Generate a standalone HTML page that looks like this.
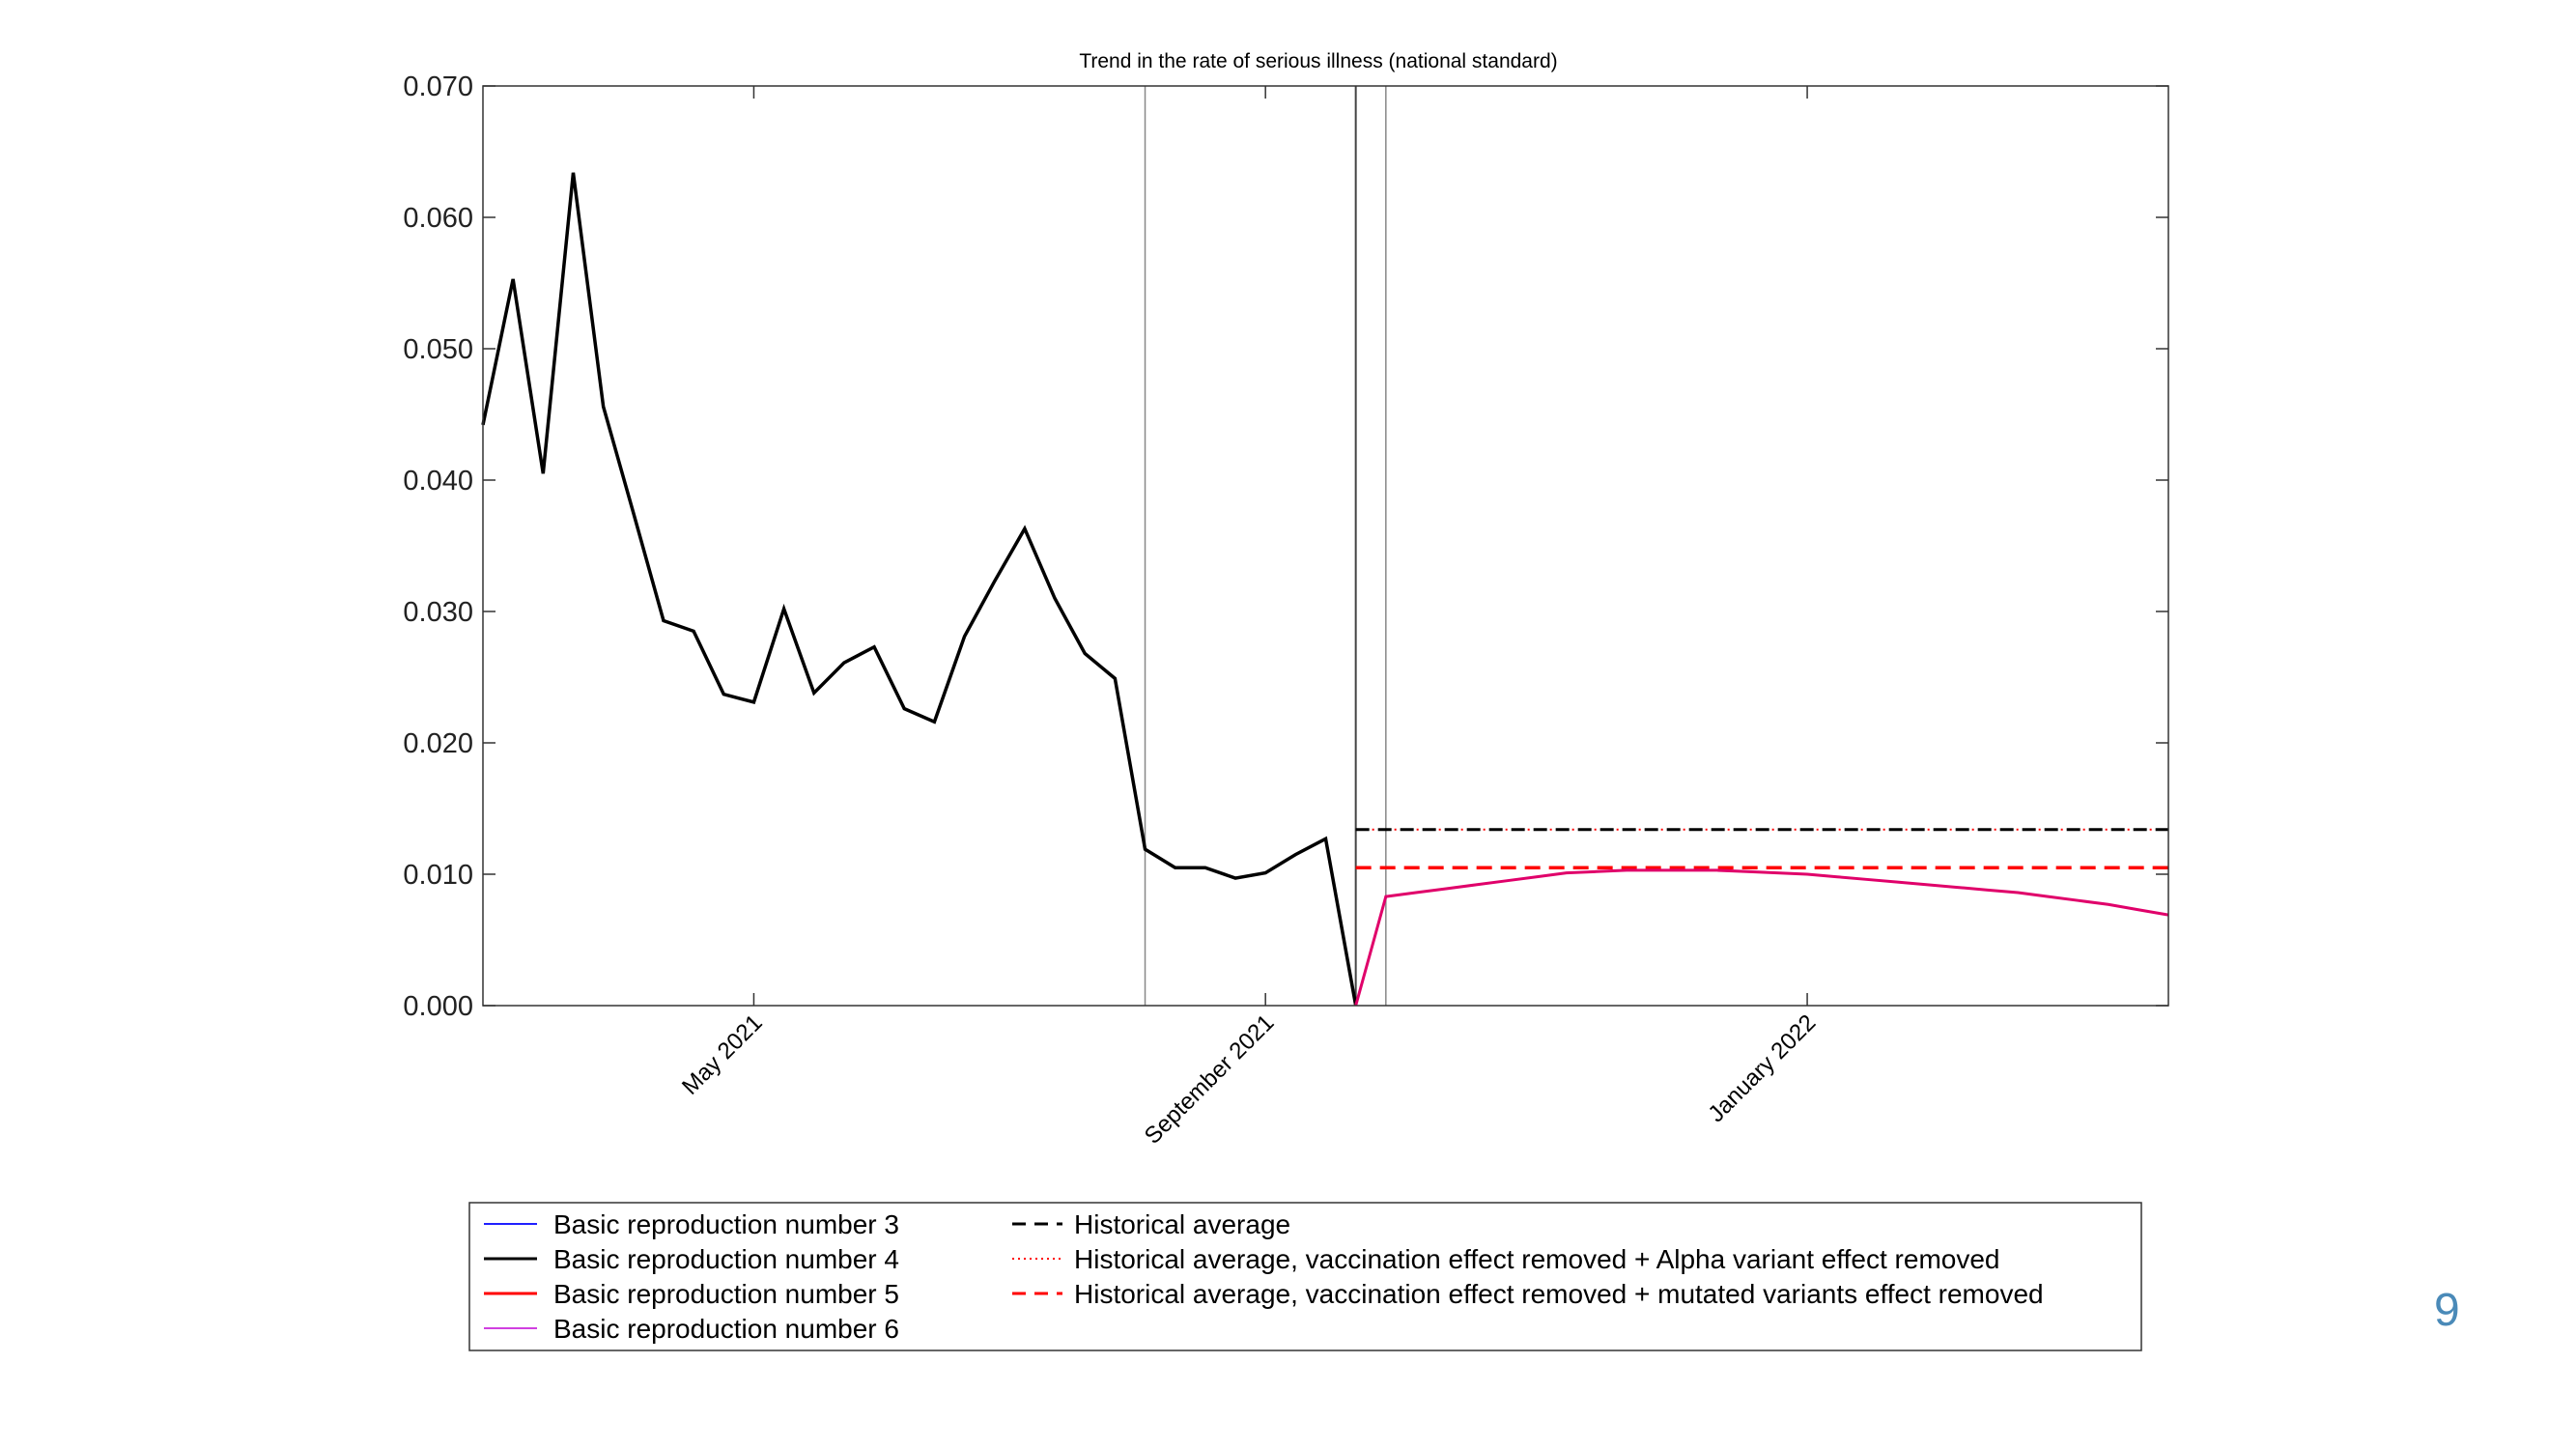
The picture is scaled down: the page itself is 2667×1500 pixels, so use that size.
<!DOCTYPE html>
<html><head><meta charset="utf-8"><style>
html,body{margin:0;padding:0;background:#fff;}
svg{display:block;font-family:"Liberation Sans",Arial,sans-serif;}
</style></head><body>
<svg id="chart" width="2667" height="1500" viewBox="0 0 2667 1500" xmlns="http://www.w3.org/2000/svg">
<rect width="2667" height="1500" fill="#fff"/>
<text x="1365" y="70" font-size="21" text-anchor="middle" fill="#000">Trend in the rate of serious illness (national standard)</text>
<g id="grid"></g>
<g id="series"></g>
<rect x="500" y="89" width="1745" height="952" fill="none" stroke="#333" stroke-width="1.5"/>
<g id="axes"></g>
<g>
<rect x="486" y="1245" width="1731" height="153" fill="#fff" stroke="#333" stroke-width="1.5"/>
<g font-size="28" fill="#000">
<g><line x1="501" y1="1267" x2="556" y2="1267" stroke="#2020ff" stroke-width="2"/><text x="573" y="1277">Basic reproduction number 3</text></g>
<g><line x1="501" y1="1303" x2="556" y2="1303" stroke="#000" stroke-width="3"/><text x="573" y="1313">Basic reproduction number 4</text></g>
<g><line x1="501" y1="1339" x2="556" y2="1339" stroke="#f00" stroke-width="3"/><text x="573" y="1349">Basic reproduction number 5</text></g>
<g><line x1="501" y1="1375" x2="556" y2="1375" stroke="#d040e0" stroke-width="2"/><text x="573" y="1385">Basic reproduction number 6</text></g>
<g><line x1="1048" y1="1267" x2="1100" y2="1267" stroke="#000" stroke-width="3" stroke-dasharray="14,9"/><text x="1112" y="1277">Historical average</text></g>
<g><line x1="1048" y1="1303" x2="1100" y2="1303" stroke="#f00" stroke-width="2" stroke-dasharray="2,4"/><text x="1112" y="1313">Historical average, vaccination effect removed + Alpha variant effect removed</text></g>
<g><line x1="1048" y1="1339" x2="1100" y2="1339" stroke="#f00" stroke-width="3" stroke-dasharray="14,9"/><text x="1112" y="1349">Historical average, vaccination effect removed + mutated variants effect removed</text></g>
</g></g>
<text x="2520" y="1372" font-size="48" fill="#4a8ab8">9</text>
</svg>
<script>
const observed = [0.0442,0.0553,0.0405,0.0634,0.0456,0.0375,0.0293,0.0285,0.0237,0.0231,0.0302,0.0238,0.0261,0.0273,0.0226,0.0216,0.0281,0.0323,0.0363,0.0310,0.0268,0.0249,0.0119,0.0105,0.0105,0.0097,0.0101,0.0115,0.0127,0.0];
const forecastStart = 29;
const forecast = [0.0,0.0083,0.0086,0.0089,0.0092,0.0095,0.0098,0.0101,0.0102,0.0103,0.0103,0.0103,0.0103,0.0102,0.0101,0.0100,0.0098,0.0096,0.0094,0.0092,0.0090,0.0088,0.0086,0.0083,0.0080,0.0077,0.0073,0.0069];
const historicalAvg = 0.0134;
const mutatedAvg = 0.0105;
const yTicks = [0,0.01,0.02,0.03,0.04,0.05,0.06,0.07];
const yTickLabels = ["0.000","0.010","0.020","0.030","0.040","0.050","0.060","0.070"];
const xTickIdx = [9.0,26.0,44.0];
const xTickLabels = ["May 2021","September 2021","January 2022"];
const vLines = [22,29,30];

const NS="http://www.w3.org/2000/svg";
const X0=500,X1=2245,Y0=1041,Y1=89,NMAX=56;
const xs=i=>X0+(X1-X0)*i/NMAX;
const ys=v=>Y0-(Y0-Y1)*v/0.07;
function mk(tag,attrs,parent){const e=document.createElementNS(NS,tag);for(const k in attrs)e.setAttribute(k,attrs[k]);parent.appendChild(e);return e;}
const grid=document.getElementById('grid'),ser=document.getElementById('series'),ax=document.getElementById('axes');
vLines.forEach((i,k)=>{const l=mk('line',{x1:xs(i),x2:xs(i),y1:Y1,y2:Y0,stroke:k==1?'#444':'#888','stroke-width':k==1?2:1.5},grid);

});
const h1=mk('line',{x1:xs(forecastStart),x2:X1,y1:ys(historicalAvg),y2:ys(historicalAvg),stroke:'#000','stroke-width':3,'stroke-dasharray':'14,9'},ser);


const h2=mk('line',{x1:xs(forecastStart),x2:X1,y1:ys(historicalAvg),y2:ys(historicalAvg),stroke:'#f00','stroke-width':2,'stroke-dasharray':'2,21','stroke-dashoffset':'-17'},ser);


const h3=mk('line',{x1:xs(forecastStart),x2:X1,y1:ys(mutatedAvg),y2:ys(mutatedAvg),stroke:'#f00','stroke-width':3.5,'stroke-dasharray':'16,9'},ser);


const po=mk('polyline',{points:observed.map((v,i)=>xs(i)+','+ys(v)).join(' '),fill:'none',stroke:'#000','stroke-width':3.5,'stroke-linejoin':'miter'},ser);


const pf=mk('polyline',{points:forecast.map((v,i)=>xs(forecastStart+i)+','+ys(v)).join(' '),fill:'none',stroke:'#e0006a','stroke-width':3},ser);


yTicks.forEach((v,k)=>{const y=ys(v);
mk('line',{x1:X0,x2:X0+13,y1:y,y2:y,stroke:'#333','stroke-width':1.5},ax);
mk('line',{x1:X1-13,x2:X1,y1:y,y2:y,stroke:'#333','stroke-width':1.5},ax);
const t=mk('text',{x:490,y:y+10,'font-size':29,'text-anchor':'end',fill:'#222'},ax);t.textContent=yTickLabels[k];

});
xTickIdx.forEach((i,k)=>{const x=xs(i);
mk('line',{x1:x,x2:x,y1:Y0,y2:Y0-13,stroke:'#333','stroke-width':1.5},ax);
mk('line',{x1:x,x2:x,y1:Y1,y2:Y1+13,stroke:'#333','stroke-width':1.5},ax);
const t=mk('text',{x:x+10,y:1060,'font-size':24,'text-anchor':'end',fill:'#000',transform:'rotate(-45 '+(x+10)+' 1060)'},ax);t.textContent=xTickLabels[k];

});
</script>
</body></html>
